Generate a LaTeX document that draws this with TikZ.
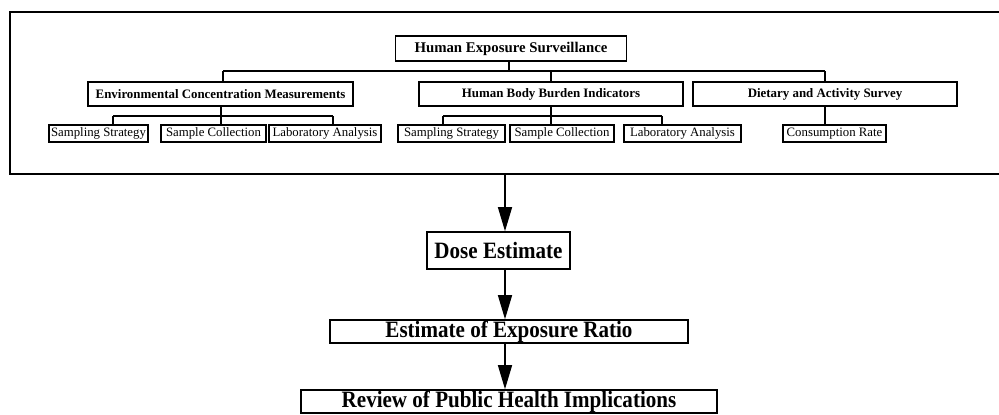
\documentclass[tikz,border=0pt]{standalone}
\usepackage{fontspec}
\setmainfont{Liberation Serif}
\newfontfamily\lowfont{Liberation Serif}[FakeStretch=0.9]
\usetikzlibrary{arrows.meta}
\tikzset{
  box/.style={draw, line width=1.5pt, inner sep=0pt, align=center, anchor=center},
  topbox/.style={box, minimum height=25pt, line width=1.7pt, font=\fontsize{14.8}{16}\selectfont\bfseries},
  midbox/.style={box, minimum height=24pt, line width=1.3pt, font=\fontsize{12.9}{14}\selectfont\bfseries},
  subbox/.style={box, minimum height=17pt, line width=1.6pt, font=\fontsize{12.8}{14}\selectfont},
  lowbox/.style={box, line width=1.6pt, font=\lowfont\fontsize{23.4}{26}\selectfont\bfseries},
  conn/.style={line width=1.2pt},
  arr/.style={line width=1.4pt, -{Triangle[length=24pt,width=14pt]}},
  frame/.style={line width=1.6pt}
}
\begin{document}
\begin{tikzpicture}[x=1pt,y=-1pt]
\useasboundingbox (0,0) rectangle (999,415);
% outer frame (open on the right)
\draw[frame] (999,12) -- (10,12) -- (10,174) -- (999,174);
\coordinate (frameB) at (505,174);
% top level
\node[topbox, minimum width=231pt] (top) at (511,48.5) {Human Exposure Surveillance};
% second level
\node[midbox, minimum width=265pt] (env) at (220.5,94) {Environmental Concentration Measurements};
\node[midbox, minimum width=264pt] (hbb) at (551,94) {Human Body Burden Indicators};
\node[midbox, minimum width=264pt] (diet) at (825,94) {Dietary and Activity Survey};
% third level
\node[subbox, minimum width=99pt] (ss1) at (98.5,133.5) {Sampling Strategy};
\node[subbox, minimum width=105pt] (sc1) at (213.5,133.5) {Sample Collection};
\node[subbox, minimum width=112pt] (la1) at (325,133.5) {Laboratory Analysis};
\node[subbox, minimum width=107pt] (ss2) at (451.5,133.5) {Sampling Strategy};
\node[subbox, minimum width=104pt] (sc2) at (562,133.5) {Sample Collection};
\node[subbox, minimum width=117pt] (la2) at (682.5,133.5) {Laboratory Analysis};
\node[subbox, minimum width=103pt] (cr) at (834.5,133.5) {Consumption Rate};
% buses
\coordinate (busL) at (223,71);
\coordinate (busR) at (825,71);
\coordinate (e1L) at (113,116);
\coordinate (e1M) at (221,116);
\coordinate (e1R) at (333,116);
\coordinate (h1L) at (443,116);
\coordinate (h1R) at (662,116);
\draw[conn] (top.south -| 509,0) -- (509,71);
\draw[conn] (busL) -- (busR);
\draw[conn] (busL) -- (busL |- env.north);
\draw[conn] (hbb.north) -- (hbb.north |- busL);
\draw[conn] (busR) -- (busR |- diet.north);
% env children
\draw[conn] (e1L) -- (e1R);
\draw[conn] (env.south -| e1M) -- (e1M |- sc1.north);
\draw[conn] (e1L) -- (e1L |- ss1.north);
\draw[conn] (e1R) -- (e1R |- la1.north);
% hbb children
\draw[conn] (h1L) -- (h1R);
\draw[conn] (hbb.south) -- (hbb.south |- sc2.north);
\draw[conn] (h1L) -- (h1L |- ss2.north);
\draw[conn] (h1R) -- (h1R |- la2.north);
% diet child
\draw[conn] (diet.south) -- (diet.south |- cr.north);
% lower chain
\node[lowbox, minimum width=143pt, minimum height=37pt] (dose) at (498.5,250.5) {Dose Estimate};
\node[lowbox, minimum width=358pt, minimum height=23pt] (est) at (509,331.5) {Estimate of Exposure Ratio};
\node[lowbox, minimum width=416pt, minimum height=23pt] (rev) at (509,401.5) {Review of Public Health Implications};
\draw[arr] (frameB) -- (frameB |- dose.north);
\draw[arr] (dose.south -| frameB) -- (frameB |- est.north);
\draw[arr] (est.south -| frameB) -- (frameB |- rev.north);
\end{tikzpicture}
\end{document}
